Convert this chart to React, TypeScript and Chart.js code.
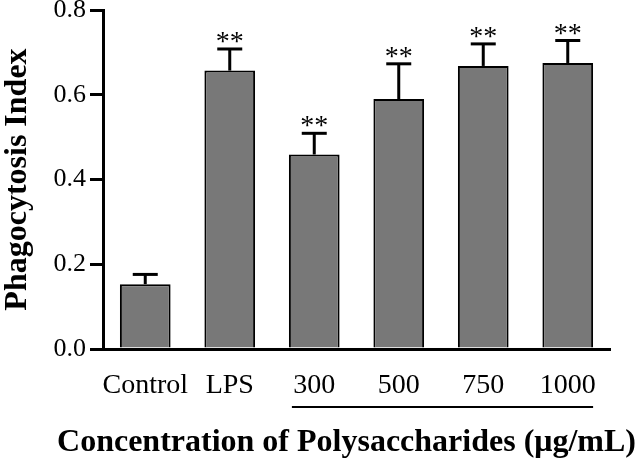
import { useEffect, useRef } from "react";
import { Chart, registerables } from "chart.js";

Chart.register(...registerables);

const categories = ["Control", "LPS", "300", "500", "750", "1000"];
const meanValues = [0.153, 0.657, 0.459, 0.59, 0.668, 0.675];
const errorValues = [0.023, 0.051, 0.05, 0.083, 0.052, 0.053];
const significance = ["", "**", "**", "**", "**", "**"];
const yTickValues = [0, 0.2, 0.4, 0.6, 0.8];
const yAxisTitle = "Phagocytosis Index";
const xAxisTitle = "Concentration of Polysaccharides (μg/mL)";
const groupFirst = 2;
const groupLast = 5;

const SERIF = "'Liberation Serif', 'Times New Roman', serif";

const errorPlugin = {
  id: "errorBars",
  afterDatasetsDraw(chart: any) {
    const ctx = chart.ctx as CanvasRenderingContext2D;
    const meta = chart.getDatasetMeta(0);
    const yScale = chart.scales.y;
    ctx.save();
    ctx.strokeStyle = "#000";
    ctx.fillStyle = "#000";
    ctx.lineCap = "butt";
    meta.data.forEach((bar: any, i: number) => {
      const x = bar.x;
      const top = yScale.getPixelForValue(meanValues[i]);
      const cap = yScale.getPixelForValue(meanValues[i] + errorValues[i]);
      ctx.lineWidth = 3;
      ctx.beginPath();
      ctx.moveTo(x, top);
      ctx.lineTo(x, cap);
      ctx.stroke();
      ctx.beginPath();
      ctx.moveTo(x - 12.5, cap);
      ctx.lineTo(x + 12.5, cap);
      ctx.stroke();
      if (significance[i]) {
        ctx.font = `28px ${SERIF}`;
        ctx.textAlign = "center";
        ctx.textBaseline = "alphabetic";
        ctx.fillText(significance[i], x, cap + 1);
      }
    });
    // group underline
    const b0 = meta.data[groupFirst] as any;
    const b1 = meta.data[groupLast] as any;
    const ly = yScale.getPixelForValue(0) + 58;
    ctx.lineWidth = 2;
    ctx.beginPath();
    ctx.moveTo(b0.x - b0.width / 2 + 3, ly);
    ctx.lineTo(b1.x + b1.width / 2, ly);
    ctx.stroke();
    ctx.restore();
  },
  afterDraw(chart: any) {
    const ctx = chart.ctx as CanvasRenderingContext2D;
    const area = chart.chartArea;
    ctx.save();
    ctx.fillStyle = "#000";
    ctx.font = `bold 32px ${SERIF}`;
    ctx.textAlign = "center";
    ctx.textBaseline = "middle";
    ctx.fillText(xAxisTitle, (area.left + area.right) / 2 - 10, area.bottom + 94);
    ctx.restore();
  },
};

export default function App() {
  const ref = useRef<HTMLCanvasElement | null>(null);
  useEffect(() => {
    if (!ref.current) return;
    const chart = new Chart(ref.current, {
      type: "bar",
      data: {
        labels: categories,
        datasets: [
          {
            data: meanValues,
            backgroundColor: "#787878",
            borderColor: "#000",
            borderWidth: 2,
            barPercentage: 0.6,
            categoryPercentage: 1,
          },
        ],
      },
      plugins: [errorPlugin],
      options: {
        animation: false,
        responsive: false,
        devicePixelRatio: 1,
        layout: { padding: { top: 10, right: 32, left: 0, bottom: 0 } },
        plugins: { legend: { display: false }, tooltip: { enabled: false } },
        scales: {
          x: {
            grid: { display: false },
            border: { display: true, color: "#000", width: 3 },
            ticks: {
              color: "#000",
              font: { family: SERIF, size: 28 },
              padding: 12,
              maxRotation: 0,
              autoSkip: false,
            },
            title: { display: false },
            afterFit(scale: any) {
              scale.height = 114;
              scale.paddingLeft = 0;
              scale.paddingRight = 0;
            },
          },
          y: {
            min: 0,
            max: 0.8,
            afterBuildTicks(scale: any) {
              scale.ticks = yTickValues.map((v) => ({ value: v }));
            },
            grid: {
              drawOnChartArea: false,
              drawTicks: true,
              tickLength: 13,
              tickWidth: 3,
              tickColor: "#000",
              lineWidth: 3,
              color: "#000",
            },
            border: { display: true, color: "#000", width: 3 },
            ticks: {
              color: "#000",
              font: { family: SERIF, size: 26 },
              padding: 4,
              callback: (v: any) => Number(v).toFixed(1),
            },
            title: {
              display: true,
              text: yAxisTitle,
              color: "#000",
              font: { family: SERIF, size: 32, weight: "bold", lineHeight: 1.1 },
              padding: { top: 0, bottom: 0 },
            },
            afterFit(scale: any) {
              scale.width = 103;
              scale.paddingTop = 0;
              scale.paddingBottom = 0;
            },
          },
        },
      },
    });
    return () => chart.destroy();
  }, []);
  return (
    <div style={{ position: "fixed", left: 0, top: 0, width: 642, height: 463, background: "#fff" }}>
      <canvas ref={ref} width={642} height={463} style={{ width: 642, height: 463, display: "block" }} />
    </div>
  );
}
